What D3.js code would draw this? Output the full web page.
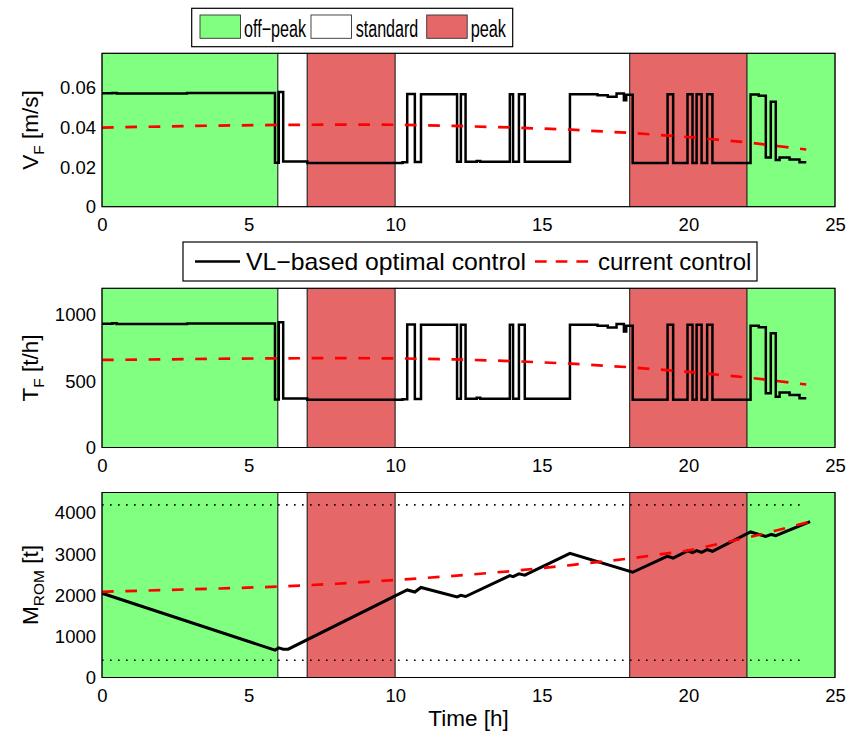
<!DOCTYPE html>
<html>
<head>
<meta charset="utf-8">
<script src="https://cdn.jsdelivr.net/npm/d3@7"></script>
<style>
body{margin:0;background:#fff}
text{font-family:"Liberation Sans",Arial,Helvetica,sans-serif;fill:#000}
</style>
</head>
<body>
<div id="chart"></div>
<script>
// tariff periods (hours)
var tariffStart=[0,6,7,10,18,22]
var tariffEnd=[6,7,10,18,22,25]
var tariffType=["off-peak","standard","peak","standard","peak","off-peak"]
var tariffNames=["off\u2212peak","standard","peak"]

// optimal control: step breakpoints (h) and values
var tStep=[0,0.35,0.5,2.9,5.9,6.03,6.18,7.0,10.25,10.41,10.67,10.88,12.11,12.24,12.4,12.78,12.9,13.91,14.02,14.22,14.42,15.96,16.9,17.25,17.55,17.8,17.88,18.1,19.29,19.48,19.97,20.14,20.28,20.45,20.64,20.82,22.12,22.4,22.64,22.81,22.98,23.11,23.45,23.79,24.02]
var vfOpt=[0.0573,0.0575,0.0572,0.0574,0.0222,0.0580,0.0228,0.0221,0.0224,0.0570,0.0226,0.0568,0.0227,0.0568,0.0227,0.0231,0.0227,0.0568,0.0227,0.0568,0.0227,0.0568,0.0563,0.0556,0.0572,0.0538,0.0565,0.0221,0.0568,0.0221,0.0568,0.0221,0.0568,0.0221,0.0568,0.0221,0.0567,0.0560,0.0249,0.0530,0.0236,0.0249,0.0239,0.0224,0.0224]
var tfOpt=[933,936,931,935,362,945,370,360,364,928,366,925,368,925,368,375,368,925,368,925,368,925,917,905,930,875,918,360,925,360,925,360,925,360,925,360,917,906,409,862,383,414,396,371,371]

// current control
var tCur=[0,2,4,6,8,10,12,14,16,18,20,22,24.02]
var vfCur=[0.0400,0.0405,0.0410,0.0413,0.0415,0.0414,0.0408,0.0400,0.0389,0.0373,0.0352,0.0325,0.0289]
var tfCur=[660,664,669,672,674,672,664,651,632,605,570,528,475]

// ROM mass
var tMopt=[0,5.9,6.03,6.18,6.35,10.41,10.67,10.88,12.11,12.24,12.4,13.91,14.02,14.22,14.42,15.96,18.1,19.29,19.48,19.97,20.14,20.28,20.45,20.64,20.82,22.12,22.64,22.83,22.98,24.15]
var mOpt=[2050,665,720,690,690,2130,2080,2190,1960,2000,1970,2480,2455,2520,2490,3020,2560,2950,2905,3080,3040,3085,3045,3110,3070,3540,3430,3480,3450,3790]
var tMcur=[0,2,4,6,8,10,12,14,16,18,20,22,23,24.15]
var mCur=[2085,2125,2165,2210,2280,2370,2470,2590,2735,2895,3090,3400,3575,3790]
var mLimits=[420,4200]
var limitEnd=24

var colores={"off-peak":"#80ff80","standard":"#ffffff","peak":"#e66767"}

var W=847,H=736
var svg=d3.select("#chart").append("svg").attr("width",W).attr("height",H)
svg.append("rect").attr("width",W).attr("height",H).attr("fill","#fff")

var x=d3.scaleLinear().domain([0,25]).range([102,835])

var paneles=[
	{top:53.3,bottom:206.7,dom:[0,0.0775],ticks:[0,0.02,0.04,0.06],fmt:function(d){return d===0?"0":d.toFixed(2)},lab:["V","F"," [m/s]"]},
	{top:288.3,bottom:447.5,dom:[0,1200],ticks:[0,500,1000],fmt:function(d){return d},lab:["T","F"," [t/h]"]},
	{top:492.5,bottom:677.5,dom:[0,4500],ticks:[0,1000,2000,3000,4000],fmt:function(d){return d},lab:["M","ROM"," [t]"]}
]
var serieOpt=[[tStep,vfOpt],[tStep,tfOpt],[tMopt,mOpt]]
var serieCur=[[tCur,vfCur],[tCur,tfCur],[tMcur,mCur]]

paneles.forEach(function(p,i){
	var y=d3.scaleLinear().domain(p.dom).range([p.bottom,p.top])
	var g=svg.append("g")

	// fondos de tarifa
	g.selectAll("rect.tar")
		.data(tariffStart.map(function(s,k){return {s:s,e:tariffEnd[k],t:tariffType[k]}}))
		.enter().append("rect")
		.attr("x",function(d){return x(d.s)})
		.attr("width",function(d){return x(d.e)-x(d.s)})
		.attr("y",p.top).attr("height",p.bottom-p.top)
		.attr("fill",function(d){return colores[d.t]})
		.attr("stroke","#222").attr("stroke-width",0.9)

	// limites del ROM
	if(i==2){
		g.selectAll("line.lim").data(mLimits).enter().append("line")
			.attr("x1",x(0)).attr("x2",x(limitEnd))
			.attr("y1",function(d){return y(d)}).attr("y2",function(d){return y(d)})
			.attr("stroke","#000").attr("stroke-width",1.6)
			.attr("stroke-dasharray","1.6,6.4")
	}

	var pts=function(s){return s[0].map(function(t,k){return [t,s[1][k]]})}
	var linea=d3.line().x(function(d){return x(d[0])}).y(function(d){return y(d[1])})
	var escalon=d3.line().x(function(d){return x(d[0])}).y(function(d){return y(d[1])}).curve(d3.curveStepAfter)

	g.append("path")
		.attr("d",(i<2?escalon:linea)(pts(serieOpt[i])))
		.attr("fill","none").attr("stroke","#000").attr("stroke-width",i<2?2.5:3)
		.attr("stroke-linejoin","miter")
	g.append("path")
		.attr("d",linea(pts(serieCur[i])))
		.attr("fill","none").attr("stroke","#ff0000").attr("stroke-width",2.7)
		.attr("stroke-dasharray","11.7,11.6")

	// caja
	g.append("rect").attr("x",x(0)).attr("y",p.top)
		.attr("width",x(25)-x(0)).attr("height",p.bottom-p.top)
		.attr("fill","none").attr("stroke","#000").attr("stroke-width",1)

	var ay=g.append("g").attr("transform","translate("+x(0)+",0)")
		.call(d3.axisLeft(y).tickValues(p.ticks).tickFormat(p.fmt).tickSize(0).tickPadding(6))
	ay.select(".domain").remove()
	ay.selectAll("text").attr("font-size",18.5).style("font-family",'"Liberation Sans",Arial,sans-serif')

	var ax=g.append("g").attr("transform","translate(0,"+p.bottom+")")
		.call(d3.axisBottom(x).tickValues([0,5,10,15,20,25]).tickFormat(d3.format("d")).tickSize(0).tickPadding(11))
	ax.select(".domain").remove()
	ax.selectAll("text").attr("font-size",18.5).style("font-family",'"Liberation Sans",Arial,sans-serif')

	// etiqueta eje y
	var ly=g.append("text")
		.attr("transform","translate(38,"+((p.top+p.bottom)/2)+") rotate(-90)")
		.attr("text-anchor","middle").attr("font-size",22.5)
	ly.append("tspan").text(p.lab[0])
	ly.append("tspan").attr("font-size",15.5).attr("dy",6).text(p.lab[1])
	ly.append("tspan").attr("dy",-6).text(p.lab[2])
})

svg.append("text").attr("x",(x(0)+x(25))/2).attr("y",726)
	.attr("text-anchor","middle").attr("font-size",22.5).text("Time [h]")

// leyenda de tarifas
var leg1=svg.append("g")
leg1.append("rect").attr("x",191.7).attr("y",8.3).attr("width",321).attr("height",38.4)
	.attr("fill","#fff").attr("stroke","#000").attr("stroke-width",1.2)
var sw=[200,311,426.7], tx=[244,355.7,470.7], tl=[62,62.6,35.3]
tariffNames.forEach(function(n,k){
	var key=["off-peak","standard","peak"][k]
	leg1.append("rect").attr("x",sw[k]).attr("y",15).attr("width",40.5).attr("height",23.3)
		.attr("fill",colores[key]).attr("stroke","#333").attr("stroke-width",0.9)
	leg1.append("text").attr("x",tx[k]).attr("y",36.5).attr("font-size",23)
		.attr("textLength",tl[k]).attr("lengthAdjust","spacingAndGlyphs").text(n)
})

// leyenda de series
var leg2=svg.append("g")
leg2.append("rect").attr("x",183).attr("y",242).attr("width",574).attr("height",39)
	.attr("fill","#fff").attr("stroke","#000").attr("stroke-width",1.2)
leg2.append("line").attr("x1",195).attr("x2",240).attr("y1",261.5).attr("y2",261.5)
	.attr("stroke","#000").attr("stroke-width",2.5)
leg2.append("text").attr("x",246).attr("y",270).attr("font-size",24)
	.attr("textLength",280).attr("lengthAdjust","spacingAndGlyphs").text("VL\u2212based optimal control")
leg2.append("line").attr("x1",535).attr("x2",590).attr("y1",261.5).attr("y2",261.5)
	.attr("stroke","#ff0000").attr("stroke-width",2.7).attr("stroke-dasharray","11.7,9")
leg2.append("text").attr("x",598).attr("y",270).attr("font-size",24).text("current control")
</script>
</body>
</html>
